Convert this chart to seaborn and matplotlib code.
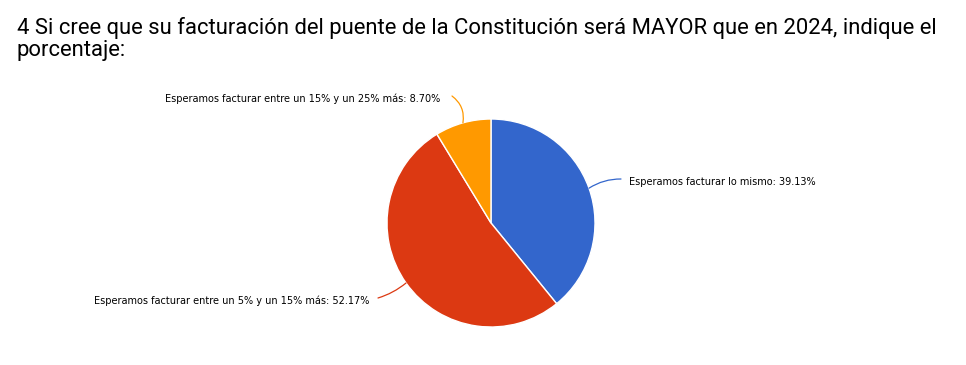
import numpy as np
import matplotlib
matplotlib.use("Agg")
import matplotlib.pyplot as plt
import seaborn as sns

# DATOS
categorias = [
    "Esperamos facturar lo mismo",
    "Esperamos facturar entre un 5% y un 15% más",
    "Esperamos facturar entre un 15% y un 25% más",
]
porcentajes = [39.13, 52.17, 8.70]
colores = ["#3366CC", "#DC3912", "#FF9900"]
titulo = "4 Si cree que su facturación del puente de la Constitución será MAYOR que en 2024, indique el\nporcentaje:"

ANCHO, ALTO = 966, 365
CENTRO = (491, ALTO - 223)
RADIO = 104

sns.set_theme(style="white")
plt.rcParams["font.family"] = ["DejaVu Sans"]

fig = plt.figure(figsize=(ANCHO / 100, ALTO / 100), dpi=100)
ax = fig.add_axes([0, 0, 1, 1])

wedges, _ = ax.pie(porcentajes, colors=colores, startangle=90, counterclock=False,
                   center=CENTRO, radius=RADIO,
                   wedgeprops=dict(edgecolor="white", linewidth=1))
ax.set_xlim(0, ANCHO)
ax.set_ylim(0, ALTO)
ax.set_aspect("equal")
ax.axis("off")

# posiciones de las etiquetas (fin de la linea guia, alineacion)
destinos = [((621, ALTO - 179), "left"), ((378, ALTO - 298), "right"), ((452, ALTO - 96), "right")]
rads = [0.15, 0.1, -0.3]
for w, cat, val, col, (dest, ha), rad in zip(wedges, categorias, porcentajes, colores, destinos, rads):
    ang = np.deg2rad((w.theta1 + w.theta2) / 2)
    x0 = CENTRO[0] + RADIO * np.cos(ang)
    y0 = CENTRO[1] + RADIO * np.sin(ang)
    ax.annotate("", xy=(x0, y0), xytext=dest,
                arrowprops=dict(arrowstyle="-", color=col, lw=0.9,
                                shrinkA=0, shrinkB=0,
                                connectionstyle=f"arc3,rad={rad}"))
    if ha == "left":
        tx, ty = dest[0] + 8, dest[1] - 3
    elif cat.endswith("25% más"):
        tx, ty = dest[0] - 12, dest[1] - 3
    else:
        tx, ty = dest[0] - 9, dest[1] - 3
    ax.text(tx, ty, f"{cat}: {val:.2f}%", ha=ha, va="center", fontsize=7, color="black")

fig.text(17 / ANCHO, 1 - 17 / ALTO, titulo, ha="left", va="top", fontsize=15.8,
         family=["Roboto", "DejaVu Sans"], color="black", linespacing=1.05)

fig.savefig("out.png", dpi=100, facecolor="white")
